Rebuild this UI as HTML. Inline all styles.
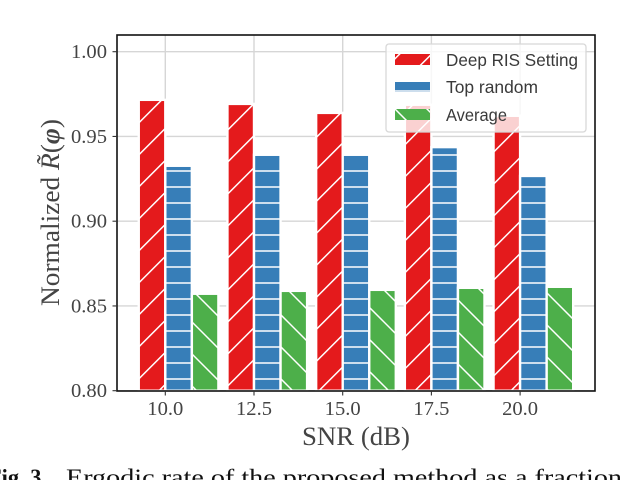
<!DOCTYPE html>
<html>
<head>
<meta charset="utf-8">
<style>
html,body{margin:0;padding:0;background:#fff;width:620px;height:480px;overflow:hidden}
svg{display:block}
.serif{font-family:"Liberation Serif",serif;fill:#444}
.sans{font-family:"Liberation Sans",sans-serif;fill:#3a3a3a;font-size:17.5px}
</style>
</head>
<body>
<svg id="chart" width="620" height="480" viewBox="0 0 620 480" xmlns="http://www.w3.org/2000/svg">
<defs>
<pattern id="hatch-slash" patternUnits="userSpaceOnUse" width="32" height="32">
<rect width="32" height="32" fill="#e41a1c"/>
<path d="M-5 10.7L10.7 -5M-5 42.7L42.7 -5" stroke="#fff" stroke-width="1.5" fill="none"/>
</pattern>
<pattern id="hatch-dash" patternUnits="userSpaceOnUse" width="16" height="16">
<rect width="16" height="16" fill="#377eb8"/>
<path d="M0 11H16" stroke="#fff" stroke-width="1.5" fill="none"/>
</pattern>
<pattern id="hatch-back" patternUnits="userSpaceOnUse" width="32" height="32">
<rect width="32" height="32" fill="#4daf4a"/>
<path d="M-5 -3L37 39M25 -5L37 7M-5 29L10 44" stroke="#fff" stroke-width="1.5" fill="none"/>
</pattern>
<clipPath id="plot-clip"><rect x="117" y="35" width="478" height="356"/></clipPath>
</defs>
<rect x="117" y="35" width="478" height="356" fill="#fff"/>
<g id="grid"></g>
<g id="bars" clip-path="url(#plot-clip)"></g>
<rect x="117" y="35" width="478" height="356" fill="none" stroke="#111" stroke-width="1.6"/>
<g id="ticks"></g>

<g>
<rect x="386" y="44" width="200" height="88" rx="3" fill="#fff" fill-opacity="0.8" stroke="#d8d8d8" stroke-width="1.3"/>
<g>
<rect x="395" y="54" width="35" height="11" fill="url(#hatch-slash)"/>
<text class="sans" x="446" y="66" textLength="132" lengthAdjust="spacingAndGlyphs">Deep RIS Setting</text>
</g>
<g>
<rect x="395" y="82" width="35" height="10" fill="url(#hatch-dash)"/>
<text class="sans" x="446" y="93" textLength="92" lengthAdjust="spacingAndGlyphs">Top random</text>
</g>
<g>
<rect x="395" y="109" width="35" height="11" fill="url(#hatch-back)"/>
<text class="sans" x="446" y="121" textLength="61" lengthAdjust="spacingAndGlyphs">Average</text>
</g>
</g>

<text class="serif" x="302" y="445" font-size="26" textLength="108" lengthAdjust="spacingAndGlyphs">SNR (dB)</text>
<text class="serif" font-size="26" transform="translate(59,306) rotate(-90)" textLength="187" lengthAdjust="spacingAndGlyphs">Normalized <tspan font-style="italic">R&#771;</tspan>(<tspan font-style="italic" font-weight="bold">&#966;</tspan>)</text>

<text x="-12" y="485" font-family="'Liberation Serif',serif" font-size="23" font-weight="bold" fill="#111" textLength="59" lengthAdjust="spacingAndGlyphs">Fig. 3.</text>
<text x="66" y="485" font-family="'Liberation Serif',serif" font-size="23" fill="#111" textLength="556" lengthAdjust="spacingAndGlyphs">Ergodic rate of the proposed method as a fraction</text>
</svg>
<script>
var categories = [10.0, 12.5, 15.0, 17.5, 20.0];
var categoryLabels = ["10.0", "12.5", "15.0", "17.5", "20.0"];
var deepRis = [0.9716, 0.9692, 0.9639, 0.9687, 0.9622];
var topRandom = [0.9327, 0.9392, 0.9392, 0.9437, 0.9267];
var average = [0.8572, 0.8589, 0.8595, 0.8607, 0.8613];
var yTicks = [0.80, 0.85, 0.90, 0.95, 1.00];
var yTickLabels = ["0.80", "0.85", "0.90", "0.95", "1.00"];

var NS = 'http://www.w3.org/2000/svg';
function xScale(v) { return 165.3 + (v - 10) * 35.48; }
function yScale(v) { return 390.7 - (v - 0.8) * 1695; }
function make(tag, attrs, parent) {
  var el = document.createElementNS(NS, tag);
  for (var k in attrs) el.setAttribute(k, attrs[k]);
  parent.appendChild(el);
  return el;
}
var gridG = document.getElementById('grid');
var barsG = document.getElementById('bars');
var ticksG = document.getElementById('ticks');
var slot = 26.55;

yTicks.forEach(function (t, i) {
  var y = yScale(t);
  var g = make('line', {x1: 117, x2: 595, y1: y, y2: y, stroke: '#d6d6d6', 'stroke-width': 1.4}, gridG);
  
  
  var m = make('line', {x1: 112.5, x2: 117, y1: y, y2: y, stroke: '#333', 'stroke-width': 1.1}, ticksG);
  
  
  var l = make('text', {x: 107, y: y + 6.5, 'text-anchor': 'end', 'font-size': 20, 'class': 'serif', textLength: 36, lengthAdjust: 'spacingAndGlyphs'}, ticksG);
  
  
  l.textContent = yTickLabels[i];
});

categories.forEach(function (c, i) {
  var x = xScale(c);
  var g = make('line', {x1: x, x2: x, y1: 35, y2: 391, stroke: '#d6d6d6', 'stroke-width': 1.4}, gridG);
  
  
  var m = make('line', {x1: x, x2: x, y1: 391, y2: 395.5, stroke: '#333', 'stroke-width': 1.1}, ticksG);
  
  
  var l = make('text', {x: x - 18, y: 415, 'font-size': 20, 'class': 'serif', textLength: 36, lengthAdjust: 'spacingAndGlyphs'}, ticksG);
  
  
  l.textContent = categoryLabels[i];
});

function drawSeries(values, offset, fill, name) {
  values.forEach(function (v, i) {
    var x = xScale(categories[i]) + offset * slot;
    var y = yScale(v);
    var r = make('rect', {x: x, y: y, width: slot, height: yScale(0.8) - y, fill: fill, stroke: '#fff', 'stroke-width': 2.4}, barsG);
    
    
  });
}
drawSeries(deepRis, -1, 'url(#hatch-slash)', 'bar-deep-ris');
drawSeries(topRandom, 0, 'url(#hatch-dash)', 'bar-top-random');
drawSeries(average, 1, 'url(#hatch-back)', 'bar-average');
</script>
</body>
</html>
